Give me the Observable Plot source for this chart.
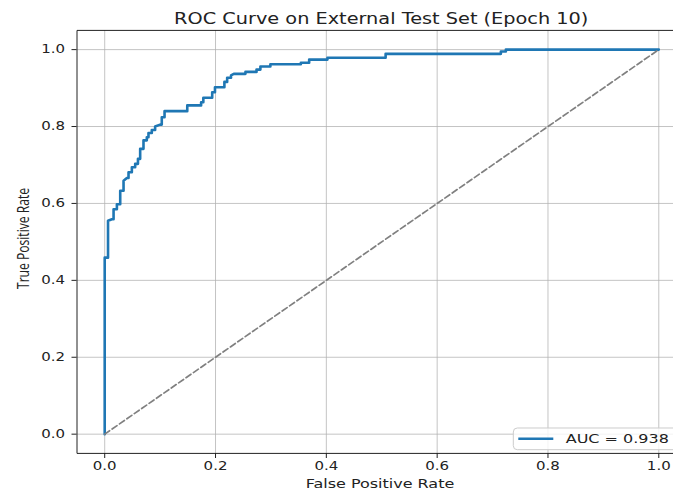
<!DOCTYPE html>
<html>
<head>
<meta charset="utf-8">
<script src="https://cdn.jsdelivr.net/npm/d3@7"></script>
<script src="https://cdn.jsdelivr.net/npm/@observablehq/plot@0.6"></script>
<style>
html, body { margin: 0; padding: 0; background: #fff; overflow: hidden; }
#chart svg path, #chart svg line, #chart svg rect { vector-effect: non-scaling-stroke; }
</style>
</head>
<body>
<div id="chart"></div>
<script>
// ---- data ----
const titleText = "ROC Curve on External Test Set (Epoch 10)";
const xLabel = "False Positive Rate";
const yLabel = "True Positive Rate";
const aucValue = 0.938;
const tickValues = [0, 0.2, 0.4, 0.6, 0.8, 1.0];
const rocFpr = [0, 0, 0.006, 0.006, 0.013, 0.016, 0.016, 0.022, 0.022, 0.028, 0.028, 0.034, 0.034, 0.040, 0.043, 0.043, 0.049, 0.049, 0.055, 0.055, 0.060, 0.060, 0.064, 0.064, 0.070, 0.070, 0.076, 0.076, 0.079, 0.079, 0.085, 0.085, 0.091, 0.091, 0.100, 0.103, 0.103, 0.108, 0.108, 0.149, 0.149, 0.174, 0.174, 0.178, 0.178, 0.194, 0.194, 0.199, 0.199, 0.216, 0.216, 0.221, 0.221, 0.228, 0.228, 0.233, 0.254, 0.254, 0.274, 0.274, 0.281, 0.281, 0.299, 0.299, 0.354, 0.354, 0.369, 0.369, 0.402, 0.402, 0.507, 0.507, 0.715, 0.715, 0.724, 0.724, 1.0];
const rocTpr = [0, 0.459, 0.459, 0.555, 0.559, 0.559, 0.585, 0.585, 0.598, 0.598, 0.633, 0.633, 0.659, 0.666, 0.666, 0.681, 0.681, 0.694, 0.694, 0.703, 0.703, 0.716, 0.716, 0.742, 0.742, 0.764, 0.764, 0.772, 0.772, 0.783, 0.783, 0.791, 0.791, 0.800, 0.805, 0.805, 0.824, 0.824, 0.840, 0.840, 0.855, 0.855, 0.863, 0.863, 0.875, 0.875, 0.889, 0.889, 0.902, 0.902, 0.916, 0.916, 0.927, 0.927, 0.933, 0.937, 0.937, 0.942, 0.942, 0.948, 0.948, 0.956, 0.956, 0.962, 0.962, 0.966, 0.966, 0.974, 0.974, 0.979, 0.979, 0.989, 0.989, 0.995, 0.995, 1.0, 1.0];
const chanceFpr = [0, 1];
const chanceTpr = [0, 1];

// ---- layout (drawn in an unsquished space, then squished vertically like the reference) ----
const W = 673, H_OUT = 490, H = 627, K = H / H_OUT;
const rocData = rocFpr.map((f, i) => ({fpr: f, tpr: rocTpr[i]}));
const chanceData = chanceFpr.map((f, i) => ({fpr: f, tpr: chanceTpr[i]}));
const fmt = d => d.toFixed(1);

const chart = Plot.plot({
  width: W,
  height: H,
  marginTop: 30 * K,
  marginBottom: H - 453 * K,
  marginLeft: 76.5,
  marginRight: -13,
  x: {domain: [-0.05, 1.05]},
  y: {domain: [-0.05, 1.05]},
  style: {fontFamily: "DejaVu Sans", fontSize: "15px", color: "#222", background: "white"},
  marks: [
    Plot.gridX(tickValues, {stroke: "#b0b0b0", strokeOpacity: 0.75, strokeWidth: 1}),
    Plot.gridY(tickValues, {stroke: "#b0b0b0", strokeOpacity: 0.75, strokeWidth: 1}),
    Plot.line(rocData, {x: "fpr", y: "tpr", stroke: "#1f77b4", strokeWidth: 2.6}),
    Plot.line(chanceData, {x: "fpr", y: "tpr", stroke: "#808080", strokeWidth: 1.7, strokeDasharray: "6,3"}),
    Plot.frame({stroke: "#222", strokeWidth: 1}),
    Plot.axisX(tickValues, {tickSize: 5 * K, tickPadding: 4.7, tickFormat: fmt, label: null, fontSize: 15}),
    Plot.axisY(tickValues, {tickSize: 5, tickPadding: 7, tickFormat: fmt, label: null, fontSize: 15})
  ]
});

const svg = d3.select(chart);
// texts and legend
svg.append("text")
  .attr("x", 381.25).attr("y", 24 * K)
  .attr("text-anchor", "middle").attr("font-family", "DejaVu Sans").attr("font-size", 19.3)
  .attr("fill", "#222").text(titleText);
svg.append("text")
  .attr("x", 380).attr("y", 488.3 * K)
  .attr("text-anchor", "middle").attr("font-family", "DejaVu Sans").attr("font-size", 16)
  .attr("fill", "#222").text(xLabel);
svg.append("text")
  .attr("transform", `translate(29,${238.5 * K}) rotate(-90)`)
  .attr("text-anchor", "middle").attr("font-family", "Open Sans").attr("font-size", 15.5)
  .attr("fill", "#222").text(yLabel);

const leg = svg.append("g");
leg.append("rect")
  .attr("x", 513.3).attr("y", 428 * K).attr("width", 200).attr("height", 21.7 * K)
  .attr("rx", 4).attr("ry", 4 * K)
  .attr("fill", "white").attr("fill-opacity", 0.8).attr("stroke", "#cccccc").attr("stroke-width", 1);
leg.append("line")
  .attr("x1", 518.3).attr("x2", 553.3).attr("y1", 438.7 * K).attr("y2", 438.7 * K)
  .attr("stroke", "#1f77b4").attr("stroke-width", 2.6);
leg.append("text")
  .attr("x", 565.7).attr("y", 443 * K)
  .attr("text-anchor", "start")
  .attr("font-family", "DejaVu Sans").attr("font-size", 16).attr("fill", "#222")
  .text("AUC = " + aucValue.toFixed(3));

svg.selectAll("path, line, rect").attr("vector-effect", "non-scaling-stroke");

// squish vertically to the reference's aspect
chart.setAttribute("viewBox", `0 0 ${W} ${H}`);
chart.setAttribute("preserveAspectRatio", "none");
chart.setAttribute("width", W);
chart.setAttribute("height", H_OUT);
chart.style.width = W + "px";
chart.style.height = H_OUT + "px";
chart.style.maxWidth = "none";

document.getElementById("chart").appendChild(chart);
</script>
</body>
</html>
